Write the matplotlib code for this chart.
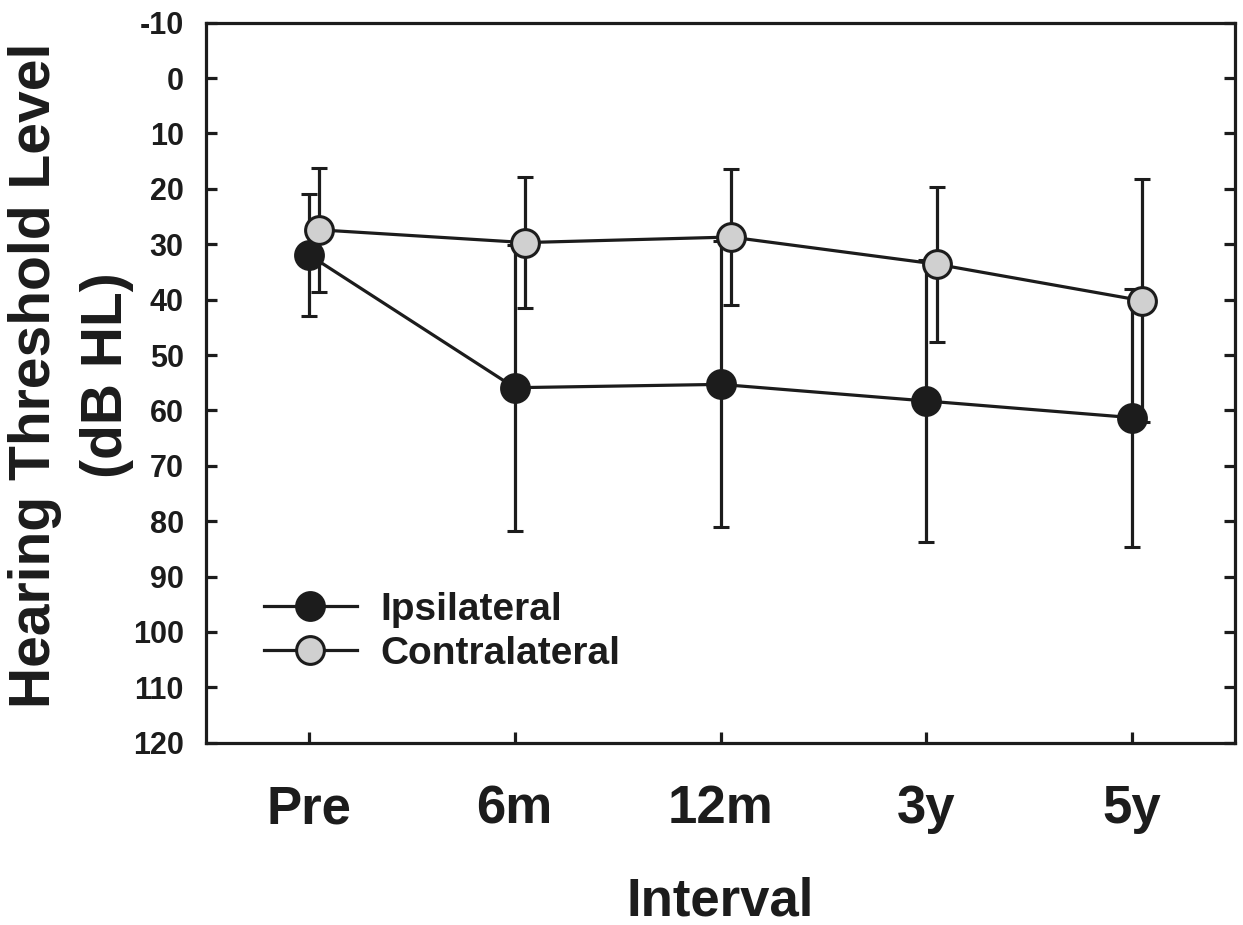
import matplotlib
matplotlib.use('Agg')
import matplotlib.pyplot as plt
import numpy as np

plt.rcParams['font.family'] = ['Liberation Sans', 'DejaVu Sans']
plt.rcParams['font.weight'] = 'bold'
plt.rcParams['axes.labelweight'] = 'bold'
plt.rcParams['axes.unicode_minus'] = False

intervals = ['Pre', '6m', '12m', '3y', '5y']

# mean hearing threshold (dB HL) and SD
ipsi_mean = [31.9, 55.9, 55.3, 58.3, 61.3]
ipsi_sd = [11.0, 25.8, 25.8, 25.4, 23.3]
contra_mean = [27.4, 29.7, 28.7, 33.6, 40.2]
contra_sd = [11.2, 11.8, 12.2, 14.0, 21.9]

ink = '#1c1c1c'
x = np.arange(len(intervals))

fig = plt.figure(figsize=(12.43, 9.25), dpi=100)
ax = fig.add_axes([0.1657, 0.197, 0.8279, 0.7785])

common = dict(color=ink, lw=2.3, ms=20, mec=ink, mew=2.2,
              ecolor=ink, elinewidth=2.3, capsize=6, capthick=2.3)
eb1 = ax.errorbar(x, ipsi_mean, yerr=ipsi_sd, fmt='-o', mfc=ink,
                  zorder=2, **common)
eb2 = ax.errorbar(x + 0.05, contra_mean, yerr=contra_sd, fmt='-o',
                  mfc='#d0d0d0', zorder=3, **common)

ax.set_xlim(-0.5, 4.5)
ax.set_ylim(120, -10)
ax.set_yticks(np.arange(-10, 121, 10))
ax.set_xticks(x)
ax.set_xticklabels(intervals)

for s in ax.spines.values():
    s.set_linewidth(2.3)
    s.set_color(ink)
ax.tick_params(axis='y', direction='in', length=8, width=2.3, color=ink,
               right=True, labelsize=22, pad=16, labelcolor=ink)
ax.tick_params(axis='x', direction='in', length=8, width=2.3, color=ink,
               top=False, labelsize=38, pad=30, labelcolor=ink)

ax.set_xlabel('Interval', fontsize=38, color=ink, labelpad=30)
fig.text(0.028, 0.5946, 'Hearing Threshold Level', rotation=90, fontsize=41,
         ha='center', va='center', color=ink)
fig.text(0.086, 0.5946, '(dB HL)', rotation=90, fontsize=41,
         ha='center', va='center', color=ink)

# legend uses only the data lines, no error bars
leg = ax.legend([eb1.lines[0], eb2.lines[0]], ['Ipsilateral', 'Contralateral'],
                loc='center left', bbox_to_anchor=(0.056, 0.154), frameon=False,
                fontsize=28, borderpad=0, borderaxespad=0, handlelength=2.4,
                handletextpad=0.6, labelspacing=0.2)
for t in leg.get_texts():
    t.set_color(ink)

fig.savefig('out.png', dpi=100)
